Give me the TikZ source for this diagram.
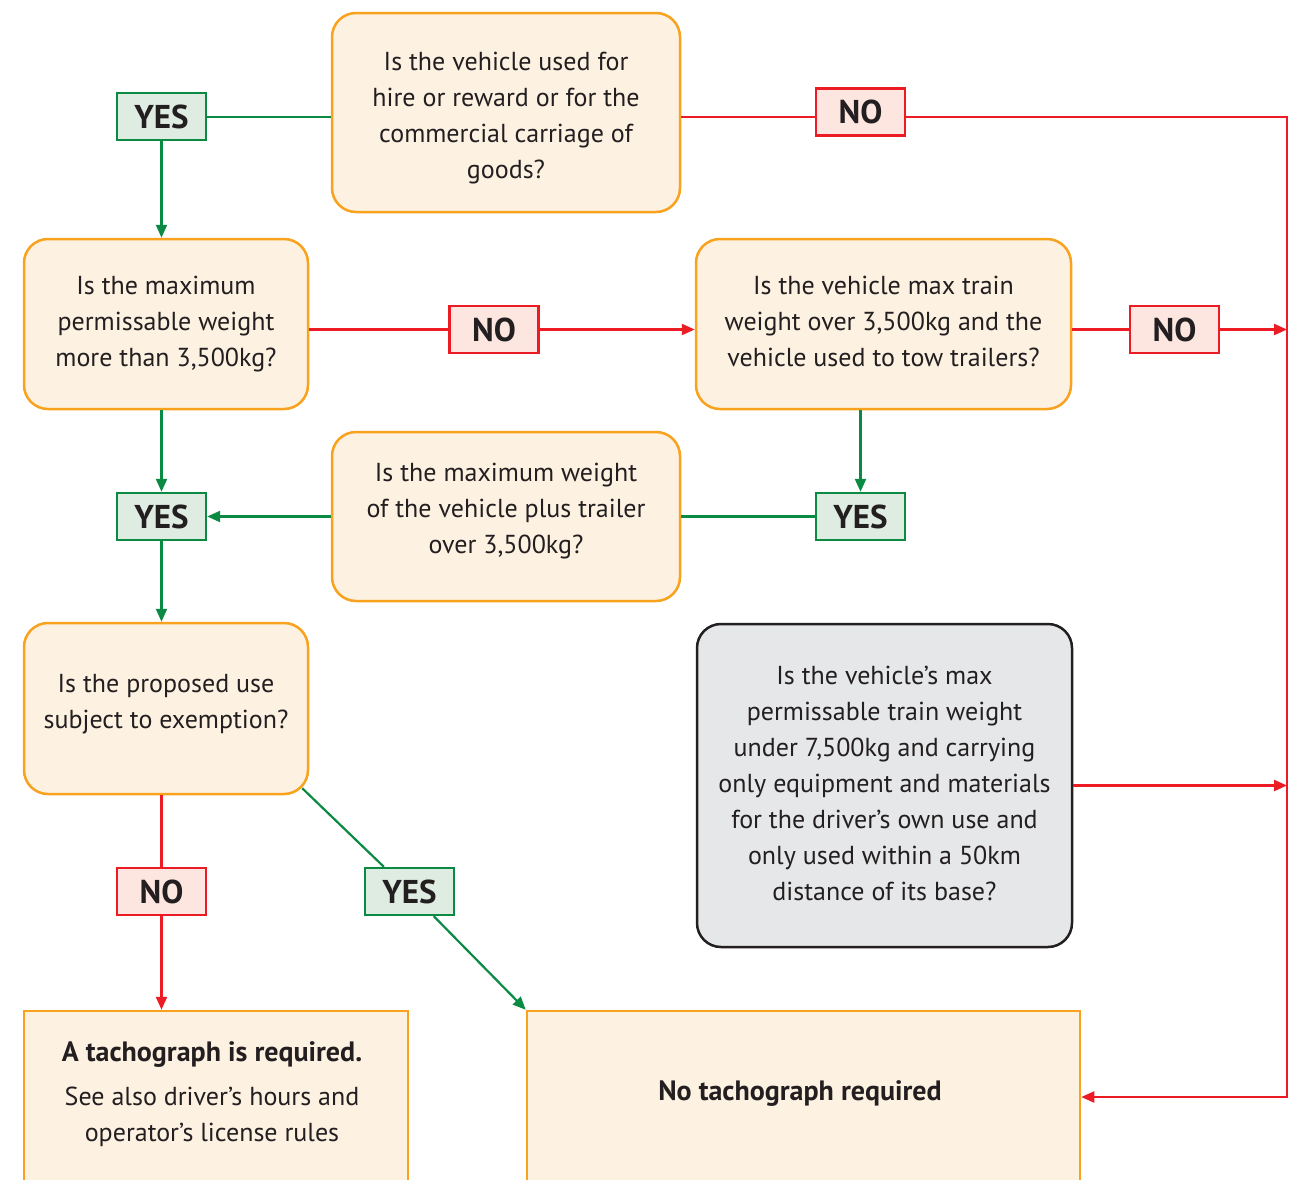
\documentclass[tikz,border=0pt]{standalone}
\usepackage{fontspec}
\setmainfont{PT Sans}
\usetikzlibrary{arrows.meta,calc}
\definecolor{borange}{HTML}{F8A21D}
\definecolor{bfill}{HTML}{FDF1E2}
\definecolor{rd}{HTML}{ED1C24}
\definecolor{nfill}{HTML}{FDE6E0}
\definecolor{grn}{HTML}{0B8A43}
\definecolor{yfill}{HTML}{DFECE2}
\definecolor{gfill}{HTML}{E6E7E8}
\definecolor{txt}{HTML}{231F20}
\newcommand\qfont{\fontsize{13}{18}\selectfont}
\newcommand\lblfont{\fontsize{16.5}{18}\selectfont\bfseries}
\tikzset{
 q/.style={draw=borange, fill=bfill, line width=1.25pt, rounded corners=12pt, align=center, inner sep=0pt, text=txt, font=\qfont},
 gq/.style={q, draw=txt, fill=gfill},
 outbox/.style={draw=borange, fill=bfill, line width=1.25pt, inner sep=0pt},
 plain/.style={align=center, inner sep=0pt, text=txt, font=\qfont},
 yesbox/.style={draw=grn, fill=yfill, line width=1.2pt, minimum width=44.5pt, minimum height=23.5pt, inner sep=0pt, font=\lblfont, text=txt},
 nobox/.style={yesbox, draw=rd, fill=nfill},
 gline/.style={draw=grn, line width=1.1pt},
 rline/.style={draw=rd, line width=1.1pt},
 tip/.style={-{Triangle[length=6.5pt,width=5.5pt]}}
}
\begin{document}
\begin{tikzpicture}[x=0.5pt,y=-0.5pt]
\clip (0,0) rectangle (1302,1179);
\fill[white] (0,0) rectangle (1302,1179);
% question boxes
\node[q, minimum width=174pt, minimum height=99.5pt] (b1) at (506,112.5) {};
\node[plain] (b1t) at (506,118.5) {Is the vehicle used for\\hire or reward or for the\\commercial carriage of\\goods?};
\node[q, minimum width=142pt, minimum height=85pt] (b2) at (166,324)
 {Is the maximum\\permissable weight\\more than 3,500kg?};
\node[q, minimum width=187.5pt, minimum height=85pt] (b3) at (883.5,324) {};
\node[plain] (b3t) at (883.5,321) {Is the vehicle max train\\weight over 3,500kg and the\\vehicle used to tow trailers?};
\node[q, minimum width=174pt, minimum height=84.5pt] (b4) at (506,516.5) {};
\node[plain] (b4t) at (506,511) {Is the maximum weight\\of the vehicle plus trailer\\over 3,500kg?};
\node[q, minimum width=142pt, minimum height=85.5pt] (b5) at (166,708.5) {};
\node[plain] (b5t) at (166,704) {Is the proposed use\\subject to exemption?};
\node[gq, minimum width=187.5pt, minimum height=161.5pt] (g) at (884.5,785.5) {};
\node[plain] (gt) at (884.5,783) {Is the vehicle’s max\\permissable train weight\\under 7,500kg and carrying\\only equipment and materials\\for the driver’s own use and\\only used within a 50km\\distance of its base?};
% outcome boxes
\node[outbox, minimum width=192pt, minimum height=86pt] (bl) at (216,1097) {};
\node[plain] (blt) at (212,1094) {{\fontsize{14}{18}\selectfont\bfseries A tachograph is required.}\\[4pt]See also driver’s hours and\\operator’s license rules};
\node[outbox, minimum width=276.5pt, minimum height=86pt] (nb) at (803.5,1097) {};
\node[plain, font=\fontsize{14}{18}\selectfont\bfseries] (nbt) at (800,1094) {No tachograph required};
% labels
\node[yesbox] (yes1) at (161.5,116.5) {YES};
\node[nobox] (no1) at (860.5,112) {NO};
\node[nobox] (no2) at (494,329.5) {NO};
\node[nobox] (no3) at (1174.5,329.5) {NO};
\node[yesbox] (yes3) at (860.5,516.5) {YES};
\node[yesbox] (yes2) at (161.5,516.5) {YES};
\node[nobox] (no4) at (161.5,891.5) {NO};
\node[yesbox] (yes4) at (409.5,891.5) {YES};
\coordinate (rt) at (1287,117);
% connectors
\draw[gline] (b1.west |- 0,117) -- (yes1.east |- 0,117);
\draw[gline,tip] (yes1.south) -- (yes1.south |- b2.north);
\draw[rline] (b1.east |- 0,117) -- (no1.west |- 0,117);
\draw[rline,tip] (no1.east |- 0,117) -- (rt) -- (rt |- nb.east) -- (nb.east);
\draw[rline] (b2.east |- no2.west) -- (no2.west);
\draw[rline,tip] (no2.east) -- (no2.east -| b3.west);
\draw[rline] (b3.east |- no3.west) -- (no3.west);
\draw[rline,tip] (no3.east) -- (no3.east -| rt);
\draw[gline,tip] (yes3.north |- b3.south) -- (yes3.north);
\draw[gline] (yes3.west) -- (yes3.west -| b4.east);
\draw[gline,tip] (b4.west |- yes2.east) -- (yes2.east);
\draw[gline,tip] (yes2.north |- b2.south) -- (yes2.north);
\draw[gline,tip] (yes2.south) -- (yes2.south |- b5.north);
\draw[rline] (no4.north |- b5.south) -- (no4.north);
\draw[rline,tip] (no4.south) -- (no4.south |- bl.north);
\draw[gline] ($(b5.south east)+(-7,-7)$) -- (yes4);
\draw[gline,tip] (yes4) -- (nb.north west);
\draw[rline,tip] (g.east) -- (g.east -| rt);
\end{tikzpicture}
\end{document}
